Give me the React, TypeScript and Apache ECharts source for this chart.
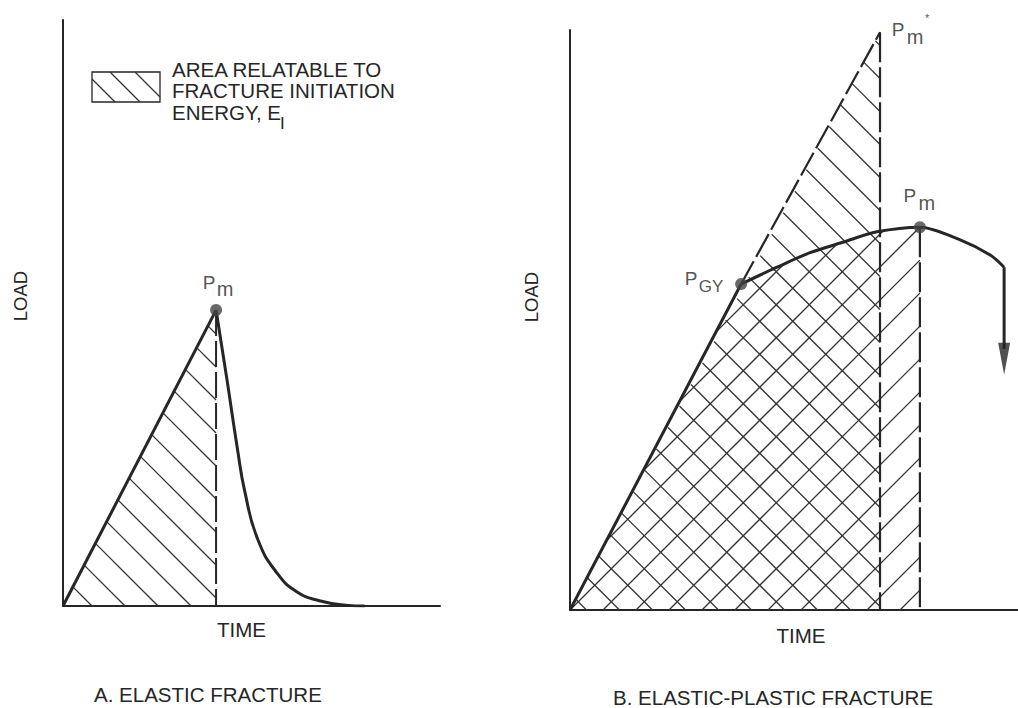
import React, { useEffect, useRef } from "react";
import * as echarts from "echarts";

// ---------- data (time / load, arbitrary units) ----------
// A. Elastic fracture
const A_RISE: number[][] = [[0, 0], [40.6, 50.5]];
const A_PEAK: number[] = [40.6, 50.5];
const A_DECAY: number[][] = [
  [40.6, 50.5], [43.5, 38.6], [46.2, 27.1], [48.3, 19.3], [51.7, 11.3],
  [56.8, 5.6], [62.1, 2.4], [68, 0.9], [75, 0.15], [80, 0],
];
const A_PEAK_DROP: number[][] = [[40.6, 50.5], [40.6, 0]];

// B. Elastic-plastic fracture
const B_ELASTIC: number[][] = [[0, 0], [38.2, 56.2]];
const B_PGY: number[] = [38.2, 56.2];
const B_PMSTAR: number[] = [69.2, 99.6];
const B_EXTENSION: number[][] = [[38.2, 56.2], [69.2, 99.6]];
const B_PMSTAR_DROP: number[][] = [[69.2, 99.6], [69.2, 0]];
const B_CURVE: number[][] = [
  [38.2, 56.2], [46.2, 59.1], [53.6, 61.6], [60.9, 63.4], [68.5, 65.2],
  [78.1, 66.0], [87.1, 63.8], [93.8, 61.2], [96.9, 59.1],
];
const B_PM: number[] = [78.1, 66.0];
const B_PM_DROP: number[][] = [[78.1, 66.0], [78.1, 0]];
const B_FALL: number[][] = [[96.9, 59.1], [96.9, 45]];
const B_ARROW: number[] = [96.9, 43.3];

// hatched regions
const A_AREA: number[][] = [[0, 0], [40.6, 50.5], [40.6, 0]];
const B_AREA_PMSTAR: number[][] = [[0, 0], [69.2, 99.6], [69.2, 0]];
const B_AREA_PM: number[][] = [
  [0, 0], [38.2, 56.2], [46.2, 59.1], [53.6, 61.6], [60.9, 63.4],
  [68.5, 65.2], [78.1, 66.0], [78.1, 0],
];

// texts
const X_NAME = "TIME";
const Y_NAME = "LOAD";
const TITLES = ["A. ELASTIC FRACTURE", "B. ELASTIC-PLASTIC FRACTURE"];
const LEGEND_LINES = ["AREA RELATABLE TO", "FRACTURE INITIATION", "ENERGY, E"];
const LEGEND_SUB = "I";

const FONT = "'Liberation Sans', Arial, Helvetica, sans-serif";
const INK = "#262626";
const TXT = 20.5;

// hatch segments clipped to a polygon (pixel space)
function hatch(poly: number[][], m: number, h: number, phase: number, anchor: number[]) {
  const f = (p: number[]) => p[1] - m * p[0];
  const fs = poly.map(f);
  const cmin = Math.min(...fs), cmax = Math.max(...fs);
  const cA = f(anchor);
  const step = m * h;
  const k1 = (cA - cmin) / step - phase;
  const k2 = (cA - cmax) / step - phase;
  const kLo = Math.floor(Math.min(k1, k2)) - 1;
  const kHi = Math.ceil(Math.max(k1, k2)) + 1;
  const segs: number[][] = [];
  for (let k = kLo; k <= kHi; k++) {
    const c = cA - step * (phase + k);
    const pts: number[][] = [];
    for (let i = 0; i < poly.length; i++) {
      const P = poly[i], Q = poly[(i + 1) % poly.length];
      const fp = f(P) - c, fq = f(Q) - c;
      if ((fp > 0 && fq <= 0) || (fp <= 0 && fq > 0)) {
        const t = fp / (fp - fq);
        pts.push([P[0] + t * (Q[0] - P[0]), P[1] + t * (Q[1] - P[1])]);
      }
    }
    pts.sort((a, b) => a[0] - b[0]);
    for (let j = 0; j + 1 < pts.length; j += 2) {
      segs.push([pts[j][0], pts[j][1], pts[j + 1][0], pts[j + 1][1]]);
    }
  }
  return segs;
}

function hatchSeries(gridIdx: number, area: number[][], m: number, h: number, phase: number) {
  return {
    type: "custom",
    coordinateSystem: "cartesian2d",
    xAxisIndex: gridIdx,
    yAxisIndex: gridIdx,
    silent: true,
    z: 1,
    data: [[0, 0]],
    renderItem: (_p: any, api: any) => {
      const px = area.map((d) => api.coord(d));
      const origin = api.coord([0, 0]);
      const segs = hatch(px, m, h, phase, origin);
      return {
        type: "group",
        children: segs.map((s) => ({
          type: "line",
          shape: { x1: s[0], y1: s[1], x2: s[2], y2: s[3] },
          style: { stroke: "#333333", lineWidth: 1.3 },
        })),
      };
    },
  };
}

function lineSeries(gridIdx: number, data: number[][], opts: any = {}) {
  return {
    type: "line",
    xAxisIndex: gridIdx,
    yAxisIndex: gridIdx,
    data,
    symbol: "none",
    silent: true,
    z: 2,
    smooth: opts.smooth ?? false,
    lineStyle: {
      color: INK,
      width: opts.width ?? 3,
      type: opts.dash ?? "solid",
      cap: "butt",
    },
  };
}

function labelItems(pt: number[], parts: { t: string; dx: number; dy: number; size: number }[]) {
  return parts.map((p) => ({
    value: pt,
    label: {
      show: true,
      position: "inside",
      formatter: p.t,
      offset: [p.dx, p.dy],
      fontSize: p.size,
      fontFamily: FONT,
      color: INK,
    },
  }));
}

export default function App() {
  const ref = useRef<HTMLDivElement>(null);
  useEffect(() => {
    if (!ref.current) return;
    const chart = echarts.init(ref.current, undefined, { renderer: "svg" });

    const axisLine = { show: true, onZero: false, lineStyle: { color: INK, width: 2 } };
    const xBase = (grid: number, gap: number, pad: number[]) => ({
      type: "value",
      gridIndex: grid,
      position: "bottom",
      min: 0,
      max: 100,
      axisLine,
      axisTick: { show: false },
      axisLabel: { show: false },
      splitLine: { show: false },
      name: X_NAME,
      nameLocation: "middle",
      nameGap: gap,
      nameTextStyle: { fontSize: TXT, color: INK, fontFamily: FONT, padding: pad },
    });
    const yBase = (grid: number, gap: number, pad: number[]) => ({
      type: "value",
      gridIndex: grid,
      position: "left",
      min: 0,
      max: 100,
      axisLine,
      axisTick: { show: false },
      axisLabel: { show: false },
      splitLine: { show: false },
      name: Y_NAME,
      nameLocation: "middle",
      nameGap: gap,
      nameRotate: 90,
      nameTextStyle: { fontSize: 18.5, color: INK, fontFamily: FONT, padding: pad },
    });

    // legend swatch hatch (pixel layout)
    const box = [[92, 72], [160, 72], [160, 102], [92, 102]];
    const boxHatch = hatch(box, 1, 25, 0.72, [92, 72]);

    const option: any = {
      animation: false,
      backgroundColor: "#ffffff",
      grid: [
        { left: 63, top: 20, width: 377, height: 586 },
        { left: 570, top: 30, width: 448, height: 580 },
      ],
      xAxis: [xBase(0, 13, [0, 20, 0, 0]), xBase(1, 15, [0, 0, 0, 14])],
      yAxis: [yBase(0, 33, [0, 0, 0, 34]), yBase(1, 29, [0, 0, 0, 46])],
      series: [
        // A
        hatchSeries(0, A_AREA, 1, 33, 0.88),
        lineSeries(0, A_RISE, { width: 3 }),
        lineSeries(0, A_DECAY, { width: 3, smooth: 0.5 }),
        lineSeries(0, A_PEAK_DROP, { width: 2, dash: [26, 5] }),
        {
          type: "scatter", xAxisIndex: 0, yAxisIndex: 0, silent: true, z: 3,
          symbolSize: 12, itemStyle: { color: "#444444" },
          data: [A_PEAK],
        },
        {
          type: "scatter", xAxisIndex: 0, yAxisIndex: 0, silent: true, z: 4,
          symbolSize: 0,
          data: labelItems(A_PEAK, [
            { t: "P", dx: -7, dy: -28, size: 19 },
            { t: "m", dx: 9, dy: -21, size: 20 },
          ]),
        },
        // B
        hatchSeries(1, B_AREA_PMSTAR, 1, 33, 0.5),
        hatchSeries(1, B_AREA_PM, -1, 33, 0),
        lineSeries(1, B_ELASTIC, { width: 3 }),
        lineSeries(1, B_EXTENSION, { width: 2.2, dash: [26, 5] }),
        lineSeries(1, B_PMSTAR_DROP, { width: 2.2, dash: [30, 5] }),
        lineSeries(1, B_PM_DROP, { width: 2.2, dash: [30, 5] }),
        lineSeries(1, B_CURVE, { width: 3, smooth: 0.3 }),
        lineSeries(1, B_FALL, { width: 3 }),
        {
          type: "scatter", xAxisIndex: 1, yAxisIndex: 1, silent: true, z: 3,
          symbol: "triangle", symbolRotate: 180, symbolSize: [12, 32],
          itemStyle: { color: INK },
          data: [B_ARROW],
        },
        {
          type: "scatter", xAxisIndex: 1, yAxisIndex: 1, silent: true, z: 3,
          symbolSize: 12, itemStyle: { color: "#444444" },
          data: [B_PGY, B_PM],
        },
        {
          type: "scatter", xAxisIndex: 1, yAxisIndex: 1, silent: true, z: 4,
          symbolSize: 0,
          data: [
            ...labelItems(B_PGY, [
              { t: "P", dx: -50, dy: -6, size: 19 },
              { t: "GY", dx: -30, dy: 2, size: 17 },
            ]),
            ...labelItems(B_PM, [
              { t: "P", dx: -10, dy: -32, size: 19 },
              { t: "m", dx: 7, dy: -24, size: 20 },
            ]),
            ...labelItems(B_PMSTAR, [
              { t: "P", dx: 18, dy: -3, size: 19 },
              { t: "m", dx: 35, dy: 5, size: 20 },
              { t: "*", dx: 47, dy: -14, size: 11 },
            ]),
          ],
        },
      ],
      graphic: [
        {
          type: "rect",
          shape: { x: 92, y: 72, width: 68, height: 30 },
          style: { fill: "none", stroke: INK, lineWidth: 1.3 },
        },
        ...boxHatch.map((s) => ({
          type: "line",
          shape: { x1: s[0], y1: s[1], x2: s[2], y2: s[3] },
          style: { stroke: "#333333", lineWidth: 1.2 },
        })),
        ...LEGEND_LINES.map((t, i) => ({
          type: "text",
          x: 172,
          y: [69, 90.5, 112][i],
          style: {
            text: t, fontSize: TXT, fontFamily: FONT, fill: INK,
            textAlign: "left", textVerticalAlign: "middle",
          },
        })),
        {
          type: "text",
          x: 280,
          y: 123,
          style: {
            text: LEGEND_SUB, fontSize: 17, fontFamily: FONT, fill: INK,
            textAlign: "left", textVerticalAlign: "middle",
          },
        },
        {
          type: "text",
          x: 94,
          y: 694,
          style: {
            text: TITLES[0], fontSize: TXT, fontFamily: FONT, fill: INK,
            textAlign: "left", textVerticalAlign: "middle",
          },
        },
        {
          type: "text",
          x: 613,
          y: 697,
          style: {
            text: TITLES[1], fontSize: TXT, fontFamily: FONT, fill: INK,
            textAlign: "left", textVerticalAlign: "middle",
          },
        },
      ],
    };
    chart.setOption(option);
    return () => chart.dispose();
  }, []);

  return (
    <div
      ref={ref}
      style={{ position: "fixed", left: 0, top: 0, width: 1018, height: 708, background: "#fff" }}
    />
  );
}
